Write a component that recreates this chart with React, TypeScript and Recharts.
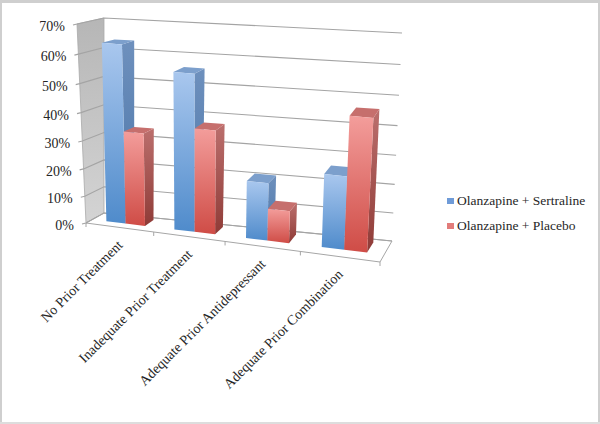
import React from "react";
import { BarChart, Bar, XAxis, YAxis, CartesianGrid, Legend } from "recharts";

const categories = ["No Prior Treatment", "Inadequate Prior Treatment", "Adequate Prior Antidepressant", "Adequate Prior Combination"];
const sertraline = [63.4, 55.5, 20.5, 25.7];
const placebo = [33.5, 37, 11.5, 46];
const valueTicks = [0, 10, 20, 30, 40, 50, 60, 70];
const seriesNames = ["Olanzapine + Sertraline", "Olanzapine + Placebo"];

const data = categories.map((category, i) => ({ category, sertraline: sertraline[i], placebo: placebo[i] }));

const L = 80, T = 20, W = 320, H = 210;
const LEGEND_W = 150;
const FONT = "'Liberation Serif', serif";
type Pt = [number, number];
const BL0: Pt = [104, 213], BL1: Pt = [104, 18], BR0: Pt = [392, 241], BR1: Pt = [402, 33];
const FL0: Pt = [86, 223], FL1: Pt = [77, 24], FR0: Pt = [380, 262], FR1: Pt = [391, 50];
const D0 = 0.35, D1 = 0.85;

const mix = (a: Pt, b: Pt, t: number): Pt => [a[0] + (b[0] - a[0]) * t, a[1] + (b[1] - a[1]) * t];
const warpU = (u: number) => u / (1 + 0.114 * (1 - u));
const warpV = (v: number) => v / (1 + 0.07 * (1 - v));
function project(u: number, v: number, d: number): Pt {
  const uu = warpU(u), vv = warpV(v);
  const front = mix(mix(FL0, FR0, uu), mix(FL1, FR1, uu), vv);
  const back = mix(mix(BL0, BR0, uu), mix(BL1, BR1, uu), vv);
  return mix(front, back, d);
}
const U = (x: number) => (x - L) / W;
const V = (y: number) => (T + H - y) / H;
const poly = (pts: Pt[]) => pts.map((p) => p.map((n) => n.toFixed(1)).join(",")).join(" ");

const barShape = (key: string) => (props: any) => {
  const { x, y, width, height } = props;
  const u0 = U(x), u1 = U(x + width), vt = V(y), vb = V(y + height);
  const a = project(u0, vt, D0), b = project(u1, vt, D0), c = project(u1, vb, D0), e = project(u0, vb, D0);
  const a2 = project(u0, vt, D1), b2 = project(u1, vt, D1), c2 = project(u1, vb, D1);
  return (
    <g>
      <polygon points={poly([b, b2, c2, c])} fill={`url(#${key}Side)`} />
      <polygon points={poly([a, a2, b2, b])} fill={`url(#${key}Top)`} />
      <polygon points={poly([a, b, c, e])} fill={`url(#${key}Front)`} />
    </g>
  );
};

const gridLine = (props: any) => {
  const v = V(props.y1);
  const fl = project(0, v, 0), bl = project(0, v, 1), br = project(1, v, 1);
  const first = props.index === 0;
  const ticksFront = [0, 0.25, 0.5, 0.75, 1];
  return (
    <g key={props.index}>
      {first && (
        <g>
          <polygon points={poly([project(0, 1, 0), project(0, 1, 1), project(0, 0, 1), project(0, 0, 0)])} fill="url(#wall)" stroke="#aaaaaa" strokeWidth={0.8} />
          <polygon points={poly([project(0, 0, 0), project(1, 0, 0), project(1, 0, 1), project(0, 0, 1)])} fill="#ffffff" stroke="#a6a6a6" strokeWidth={1} />
          {ticksFront.map((u) => {
            const p = project(u, 0, 0);
            return <line key={u} x1={p[0]} y1={p[1]} x2={p[0]} y2={p[1] + 4} stroke="#a6a6a6" strokeWidth={1} />;
          })}
        </g>
      )}
      <polyline points={poly([[fl[0] - 4, fl[1] + 1], fl, bl, br])} fill="none" stroke="#a4a4a4" strokeWidth={1.1} />
    </g>
  );
};

const xTick = (props: any) => {
  const p = project(U(props.x), 0, 0);
  const x = p[0] + 4, y = p[1] + 18.5;
  return (
    <text x={x} y={y} textAnchor="end" transform={`rotate(-45 ${x} ${y})`} fontFamily={FONT} fontSize={14} fill="#262626">
      {props.payload.value}
    </text>
  );
};
const yTick = (props: any) => {
  const p = project(0, V(props.y), 0);
  return (
    <text x={p[0] - 12} y={p[1] + 7} textAnchor="end" fontFamily={FONT} fontSize={14} fill="#262626">
      {`${props.payload.value}%`}
    </text>
  );
};

const legendContent = (props: any) => (
  <div style={{ fontFamily: FONT, fontSize: 13.5, color: "#262626" }}>
    {props.payload.map((e: any, i: number) => (
      <div key={e.value} style={{ position: "absolute", left: 0, top: i * 25, whiteSpace: "nowrap", height: 16, lineHeight: "16px" }}>
        <span style={{ display: "inline-block", width: 7, height: 6, marginRight: 3, verticalAlign: 1, background: e.color }} />
        {e.value}
      </div>
    ))}
  </div>
);

const grad = (id: string, top: string, bottom: string) => (
  <linearGradient id={id} x1="0" y1="0" x2="0" y2="1">
    <stop offset="0%" stopColor={top} />
    <stop offset="100%" stopColor={bottom} />
  </linearGradient>
);

export default function App() {
  return (
    <div style={{ position: "absolute", left: 0, top: 0, width: 600, height: 424, background: "#fff", overflow: "hidden" }}>
      <BarChart width={600} height={424} data={data} margin={{ left: L - 1, top: T, right: 600 - L - W - LEGEND_W, bottom: 424 - T - H - 1 }} barCategoryGap="21.4%" barGap={0}>
        <defs>
          {grad("sFront", "#a9c7ee", "#4f8bcb")}
          {grad("sSide", "#6e90bd", "#4a75a8")}
          {grad("sTop", "#7c9fcc", "#7c9fcc")}
          {grad("pFront", "#f39d9b", "#cf4c46")}
          {grad("pSide", "#bb6f6d", "#8f3b37")}
          {grad("pTop", "#c66f6d", "#c66f6d")}
          {grad("wall", "#b6b6b6", "#d4d4d4")}
        </defs>
        <CartesianGrid vertical={false} horizontal={gridLine} />
        <XAxis dataKey="category" axisLine={false} tickLine={false} interval={0} height={1} tick={xTick} />
        <YAxis domain={[0, 70]} ticks={valueTicks} interval={0} axisLine={false} tickLine={false} width={1} tick={yTick} />
        <Bar dataKey="sertraline" name={seriesNames[0]} fill="#6f9bd8" shape={barShape("s")} isAnimationActive={false} />
        <Bar dataKey="placebo" name={seriesNames[1]} fill="#e27c7a" shape={barShape("p")} isAnimationActive={false} />
        <Legend layout="vertical" align="right" verticalAlign="top" itemSorter={null} content={legendContent} wrapperStyle={{ position: "absolute", left: 447, top: 193, width: LEGEND_W, height: 50 }} />
      </BarChart>
      <div style={{ position: "absolute", left: 0, top: 0, right: 0, height: 3, background: "#cfcfcf" }} />
      <div style={{ position: "absolute", left: 0, top: 0, bottom: 0, width: 2, background: "#cfcfcf" }} />
      <div style={{ position: "absolute", right: 0, top: 0, bottom: 0, width: 2, background: "#cfcfcf" }} />
      <div style={{ position: "absolute", left: 0, right: 0, bottom: 0, height: 2, background: "#dddddd" }} />
    </div>
  );
}
